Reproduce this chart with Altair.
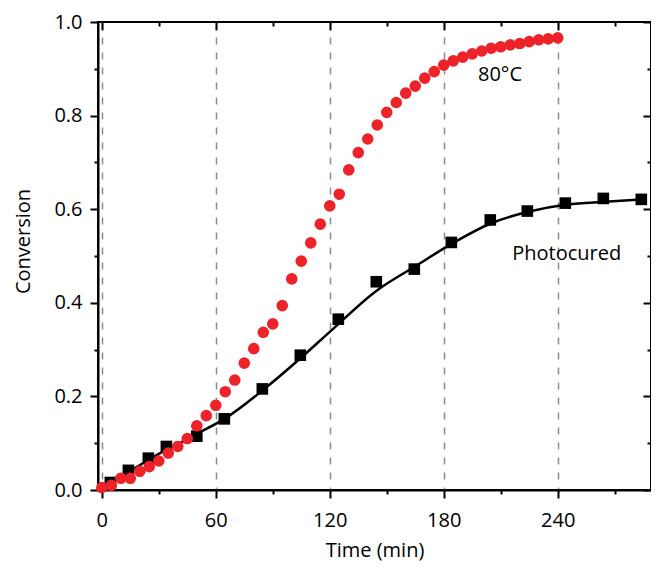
import altair as alt
import pandas as pd

# ---- data ----
heat_time = [0, 5, 10, 15, 20, 25, 30, 35, 40, 45, 50, 55, 60, 65, 70, 75, 80, 85, 90, 95,
             100, 105, 110, 115, 120, 125, 130, 135, 140, 145, 150, 155, 160, 165, 170, 175,
             180, 185, 190, 195, 200, 205, 210, 215, 220, 225, 230, 235, 240]
heat_conv = [0.005, 0.010, 0.025, 0.025, 0.040, 0.050, 0.062, 0.079, 0.093, 0.110, 0.137,
             0.159, 0.181, 0.210, 0.235, 0.271, 0.302, 0.337, 0.355, 0.394, 0.451, 0.489,
             0.528, 0.568, 0.607, 0.632, 0.684, 0.721, 0.750, 0.780, 0.807, 0.828, 0.848,
             0.863, 0.880, 0.894, 0.908, 0.917, 0.925, 0.932, 0.938, 0.944, 0.947, 0.951,
             0.954, 0.958, 0.962, 0.964, 0.966]

photo_time = [4.5, 14, 24.5, 34, 50, 64.5, 84.5, 104.5, 124.5, 144.5, 164.5, 184, 204.5,
              224, 244, 264, 284]
photo_conv = [0.016, 0.042, 0.068, 0.093, 0.115, 0.152, 0.216, 0.288, 0.365, 0.445, 0.472,
              0.529, 0.577, 0.596, 0.613, 0.623, 0.621]

fit_time = [0, 10, 20, 30, 40, 50, 65, 85, 105, 120, 145, 165, 185, 205, 225, 245, 265, 284]
fit_conv = [0.0, 0.028, 0.053, 0.077, 0.098, 0.120, 0.153, 0.214, 0.283, 0.338, 0.427,
            0.478, 0.528, 0.570, 0.595, 0.610, 0.616, 0.621]

label_text = ["80°C", "Photocured"]
label_time = [209.6, 244.7]
label_conv = [0.886, 0.504]

major_x = [0, 60, 120, 180, 240]
minor_x = [30, 90, 150, 210, 270]
major_y = [0.0, 0.2, 0.4, 0.6, 0.8, 1.0]
minor_y = [0.1, 0.3, 0.5, 0.7, 0.9]

heat_df = pd.DataFrame({"time": heat_time, "conv": heat_conv})
photo_df = pd.DataFrame({"time": photo_time, "conv": photo_conv})
fit_df = pd.DataFrame({"time": fit_time, "conv": fit_conv})
label_df = pd.DataFrame({"time": label_time, "conv": label_conv, "label": label_text})

FONT = "Open Sans"
RED = "#ee2229"

xs = alt.Scale(domain=[-2, 289.1], nice=False, zero=False)
ys = alt.Scale(domain=[0, 1], nice=False, zero=False)

# Layer 1: fitted line  (carries the minor bottom / left ticks)
fit_line = alt.Chart(fit_df).mark_line(color="black", strokeWidth=2.5, interpolate="monotone").encode(
    x=alt.X("time:Q", scale=xs, axis=alt.Axis(orient="bottom", values=minor_x, tickSize=4,
                                               labels=False, domain=False, grid=False, title=None,
                                               tickWidth=2)),
    y=alt.Y("conv:Q", scale=ys, axis=alt.Axis(orient="left", values=minor_y, tickSize=4,
                                               labels=False, domain=False, grid=False, title=None,
                                               tickWidth=2)),
)

# Layer 2: photocured squares (carries inward major top / right ticks)
squares = alt.Chart(photo_df).mark_point(shape="square", filled=True, color="black", size=135, opacity=1).encode(
    x=alt.X("time:Q", scale=xs, axis=alt.Axis(orient="top", values=major_x, tickSize=8, offset=-8,
                                               labels=False, domain=False, grid=False, title=None,
                                               tickWidth=2)),
    y=alt.Y("conv:Q", scale=ys, axis=alt.Axis(orient="right", values=major_y, tickSize=8, offset=-8,
                                               labels=False, domain=False, grid=False, title=None,
                                               tickWidth=2)),
)

# Layer 3: 80 °C circles (carries the main labelled axes and grid)
circles = alt.Chart(heat_df).mark_circle(color=RED, size=135, opacity=1).encode(
    x=alt.X("time:Q", scale=xs, axis=alt.Axis(orient="bottom", values=major_x, tickSize=8,
                                               labelPadding=12, format="d",
                                               grid=True, gridDash=[7, 8], gridColor="#8c8c8c",
                                               gridWidth=1.5, domain=True, domainWidth=2,
                                               tickWidth=2, title="Time (min)",
                                               titleY=66, titleBaseline="alphabetic")),
    y=alt.Y("conv:Q", scale=ys, axis=alt.Axis(orient="left", values=major_y, tickSize=8,
                                               labelPadding=8, format=".1f", grid=False,
                                               domain=True, domainWidth=2, tickWidth=2,
                                               title="Conversion", titleX=-75, titleY=219,
                                               titleAngle=270, titleAlign="center",
                                               titleBaseline="middle")),
)

# Layer 4: labels (carries inward minor top / right ticks)
labels = alt.Chart(label_df).mark_text(font=FONT, fontSize=20, color="black",
                                       align="center", baseline="middle").encode(
    x=alt.X("time:Q", scale=xs, axis=alt.Axis(orient="top", values=minor_x, tickSize=4, offset=-4,
                                               labels=False, domain=False, grid=False, title=None,
                                               tickWidth=2)),
    y=alt.Y("conv:Q", scale=ys, axis=alt.Axis(orient="right", values=minor_y, tickSize=4, offset=-4,
                                               labels=False, domain=False, grid=False, title=None,
                                               tickWidth=2)),
    text="label:N",
)

chart = alt.layer(fit_line, squares, circles, labels).resolve_axis(
    x="independent", y="independent"
).properties(
    width=553,
    height=468,
    autosize=alt.AutoSizeParams(type="none"),
    padding={"left": 90, "top": 14, "right": 0, "bottom": 74},
).configure_view(
    stroke="black", strokeWidth=2
).configure_axis(
    labelFont=FONT, titleFont=FONT, labelFontSize=20, titleFontSize=20,
    titleFontWeight="normal", labelColor="black", titleColor="black",
    tickColor="black", domainColor="black",
)

chart.save("out.html", embed_options={"renderer": "svg", "actions": False})
